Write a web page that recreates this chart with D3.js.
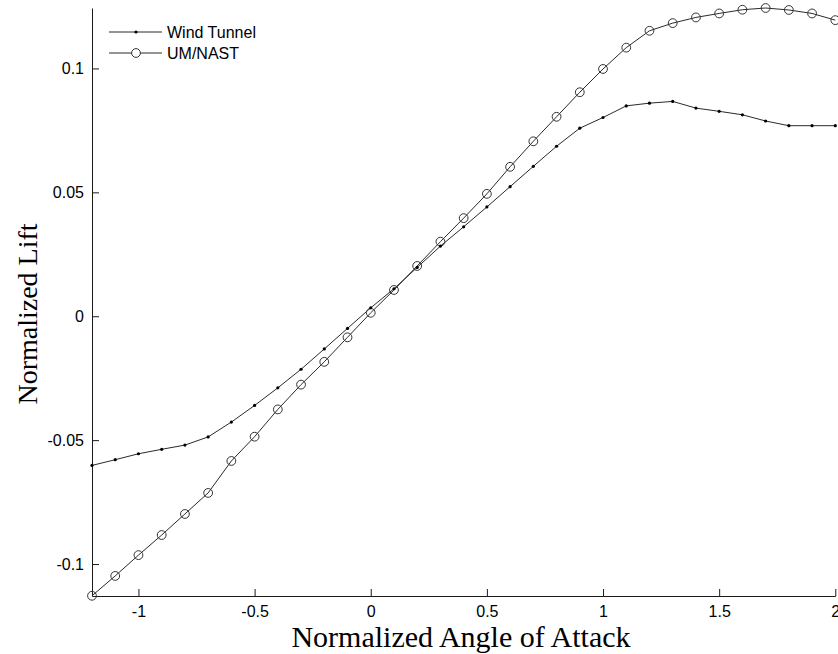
<!DOCTYPE html>
<html>
<head>
<meta charset="utf-8">
<script src="https://cdn.jsdelivr.net/npm/d3@7"></script>
<style>
  html, body { margin: 0; padding: 0; background: #fff; }
  svg { display: block; }
</style>
</head>
<body>
<svg id="chart" width="838" height="654"></svg>
<script>
// ---- Data ----
const angles = [-1.2,-1.1,-1.0,-0.9,-0.8,-0.7,-0.6,-0.5,-0.4,-0.3,-0.2,-0.1,0,0.1,0.2,0.3,0.4,0.5,0.6,0.7,0.8,0.9,1.0,1.1,1.2,1.3,1.4,1.5,1.6,1.7,1.8,1.9,2.0];
const windTunnel = [-0.0602,-0.0579,-0.0555,-0.0537,-0.0520,-0.0487,-0.0427,-0.0360,-0.0289,-0.0214,-0.0132,-0.0049,0.0034,0.0111,0.0197,0.0283,0.0361,0.0441,0.0523,0.0605,0.0686,0.0759,0.0802,0.0849,0.0860,0.0867,0.0840,0.0827,0.0813,0.0788,0.0769,0.0769,0.0769];
const umNast = [-0.1128,-0.1048,-0.0964,-0.0883,-0.0798,-0.0713,-0.0584,-0.0486,-0.0376,-0.0276,-0.0184,-0.0085,0.0014,0.0106,0.0203,0.0301,0.0396,0.0494,0.0603,0.0706,0.0805,0.0904,0.0998,0.1084,0.1152,0.1183,0.1206,0.1222,0.1237,0.1244,0.1236,0.1222,0.1195];
const xTicks = [-1,-0.5,0,0.5,1,1.5,2];
const xTickLabels = ["-1","-0.5","0","0.5","1","1.5","2"];
const yTicks = [-0.1,-0.05,0,0.05,0.1];
const yTickLabels = ["-0.1","-0.05","0","0.05","0.1"];
const seriesNames = ["Wind Tunnel","UM/NAST"];
const xLimits = [-1.2, 2];
const yLimits = [-0.1129, 0.1244];

// ---- Layout ----
const svg = d3.select("#chart");
const plotLeft = 92, plotRight = 835.3, plotTop = 8, plotBottom = 596;
const x = d3.scaleLinear().domain(xLimits).range([plotLeft, plotRight]);
const y = d3.scaleLinear().domain(yLimits).range([plotBottom, plotTop]);
const axisColor = "#1a1a1a";
const tickFont = "'Liberation Sans', Arial, sans-serif";
const titleFont = "'Liberation Serif', 'Times New Roman', serif";

// axes
const xAxis = d3.axisBottom(x).tickValues(xTicks).tickSizeInner(-7).tickSizeOuter(0)
  .tickFormat((d,i) => xTickLabels[i]).tickPadding(10);
const gx = svg.append("g").attr("transform", `translate(0,${plotBottom})`).call(xAxis);
const yAxis = d3.axisLeft(y).tickValues(yTicks).tickSizeInner(-7).tickSizeOuter(0)
  .tickFormat((d,i) => yTickLabels[i]).tickPadding(8);
const gy = svg.append("g").attr("transform", `translate(${plotLeft},0)`).call(yAxis);
[gx, gy].forEach(g => {
  g.select(".domain").attr("stroke", axisColor).attr("stroke-width", 1);
  g.selectAll(".tick line").attr("stroke", axisColor).attr("stroke-width", 1);
  g.selectAll(".tick text").attr("fill", "#000").style("font-family", tickFont).style("font-size", "16px");
});
gx.selectAll(".tick text").attr("dy", "0.71em");

// axis titles
svg.append("text").attr("x", 461).attr("y", 647).attr("text-anchor", "middle")
  .style("font-family", titleFont).style("font-size", "30px").attr("fill", "#000")
  .text("Normalized Angle of Attack");
svg.append("text").attr("transform", "translate(37,314) rotate(-90)").attr("text-anchor", "middle")
  .style("font-family", titleFont).style("font-size", "28px").attr("fill", "#000")
  .text("Normalized Lift");

// series
const line = d3.line().x(d => x(d[0])).y(d => y(d[1]));
const wtData = angles.map((a,i) => [a, windTunnel[i]]);
const umData = angles.map((a,i) => [a, umNast[i]]);
const lineColor = "#2a2a2a";

svg.append("path").datum(wtData).attr("d", line).attr("fill", "none")
  .attr("stroke", lineColor).attr("stroke-width", 1);
svg.append("path").datum(umData).attr("d", line).attr("fill", "none")
  .attr("stroke", lineColor).attr("stroke-width", 1);

svg.append("g").selectAll("circle").data(umData).join("circle")
  .attr("cx", d => x(d[0])).attr("cy", d => y(d[1])).attr("r", 4.4)
  .attr("fill", "none").attr("stroke", "#333").attr("stroke-width", 1);
svg.append("g").selectAll("circle").data(wtData).join("circle")
  .attr("cx", d => x(d[0])).attr("cy", d => y(d[1])).attr("r", 1.6)
  .attr("fill", "#000");

// legend
const lg = svg.append("g");
const legY = [32, 53];
seriesNames.forEach((name, i) => {
  lg.append("line").attr("x1", 109).attr("x2", 162).attr("y1", legY[i]).attr("y2", legY[i])
    .attr("stroke", lineColor).attr("stroke-width", 1);
  if (i === 0) {
    lg.append("circle").attr("cx", 136).attr("cy", legY[i]).attr("r", 1.6).attr("fill", "#000");
  } else {
    lg.append("circle").attr("cx", 136).attr("cy", legY[i]).attr("r", 4.4)
      .attr("fill", "#fff").attr("stroke", "#333").attr("stroke-width", 1);
  }
  lg.append("text").attr("x", 167).attr("y", legY[i]).attr("dy", "0.35em")
    .style("font-family", tickFont).style("font-size", "16px").attr("fill", "#000")
    .text(name);
});
</script>
</body>
</html>
